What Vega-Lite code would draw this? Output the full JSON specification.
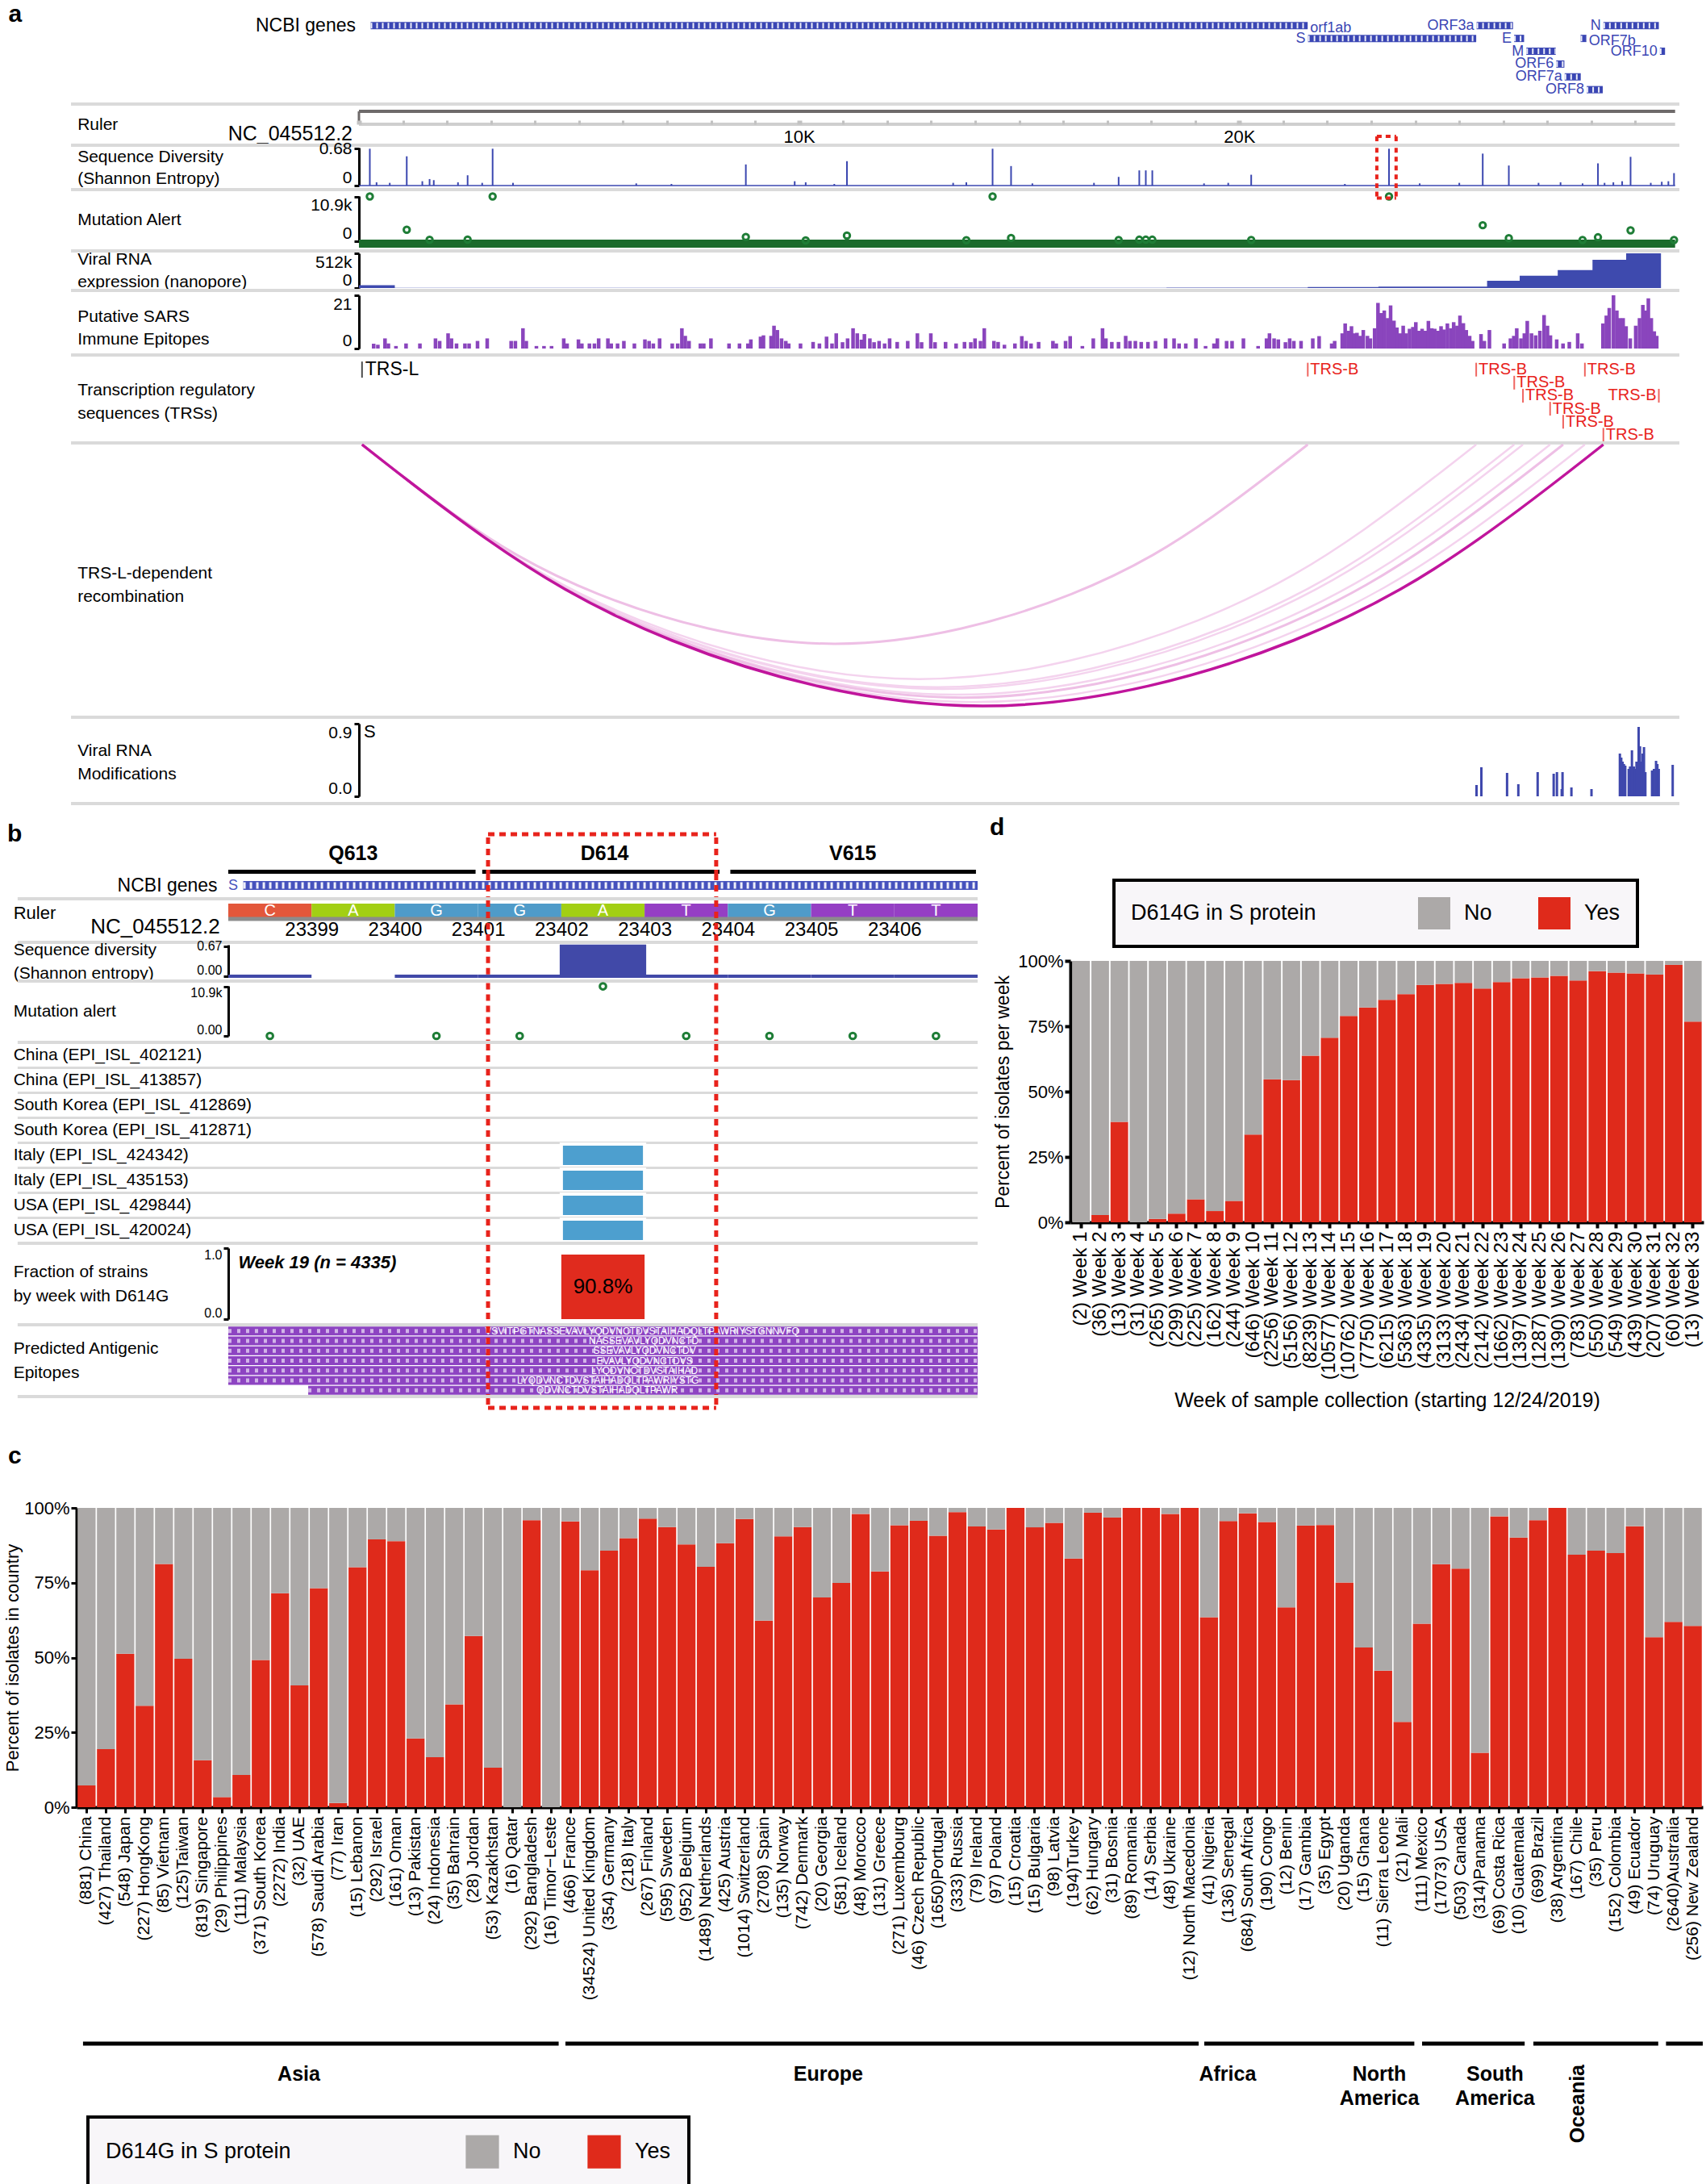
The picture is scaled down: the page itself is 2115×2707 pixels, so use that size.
{
"$schema":"https://vega.github.io/schema/vega-lite/v6.json",
"background":"white",
"padding":{"left":4,"top":0,"right":0,"bottom":0},
"spacing":0,
"resolve":{"scale":{"color":"independent"},"legend":{"color":"independent"}},
"config":{"font":"Liberation Sans","view":{"stroke":null},
 "axis":{"grid":false,"labelColor":"black","titleColor":"black","titleFontWeight":"normal","domainColor":"black","tickColor":"black","labelFont":"Liberation Sans","titleFont":"Liberation Sans"},
 "legend":{"strokeWidth":4,"labelColor":"black","titleColor":"black","labelFont":"Liberation Sans","titleFont":"Liberation Sans"},
 "text":{"color":"black","font":"Liberation Sans"},"title":{"color":"black","font":"Liberation Sans"}},
"datasets":{
 "genes":[{"gene":"orf1ab","start":266,"end":21555,"row":0},{"gene":"S","start":21563,"end":25384,"row":1},{"gene":"ORF3a","start":25393,"end":26220,"row":0},{"gene":"E","start":26245,"end":26472,"row":1},{"gene":"M","start":26523,"end":27191,"row":2},{"gene":"ORF6","start":27202,"end":27387,"row":3},{"gene":"ORF7a","start":27394,"end":27759,"row":4},{"gene":"ORF7b","start":27756,"end":27887,"row":1},{"gene":"ORF8","start":27894,"end":28259,"row":5},{"gene":"N","start":28274,"end":29533,"row":0},{"gene":"ORF10","start":29558,"end":29674,"row":2}],
 "redboxA":[{"x":23126},{"x":23564}],
 "redbox":[{"x":23401.12},{"x":23403.86}],
 "entropy":[{"p":247,"H":0.68},{"p":400,"H":0.06},{"p":700,"H":0.05},{"p":1086,"H":0.54},{"p":1440,"H":0.08},{"p":1605,"H":0.12},{"p":1700,"H":0.1},{"p":2250,"H":0.06},{"p":2469,"H":0.19},{"p":2800,"H":0.05},{"p":3037,"H":0.68},{"p":3500,"H":0.05},{"p":6300,"H":0.04},{"p":7100,"H":0.03},{"p":8790,"H":0.39},{"p":9900,"H":0.08},{"p":10150,"H":0.06},{"p":10800,"H":0.03},{"p":11087,"H":0.45},{"p":13500,"H":0.05},{"p":13800,"H":0.06},{"p":14396,"H":0.68},{"p":14816,"H":0.36},{"p":15300,"H":0.04},{"p":16700,"H":0.05},{"p":17260,"H":0.16},{"p":17729,"H":0.28},{"p":17877,"H":0.28},{"p":18025,"H":0.28},{"p":19200,"H":0.04},{"p":19750,"H":0.05},{"p":20272,"H":0.2},{"p":22400,"H":0.03},{"p":23403,"H":0.68},{"p":24100,"H":0.04},{"p":25000,"H":0.05},{"p":25532,"H":0.59},{"p":26125,"H":0.37},{"p":26800,"H":0.05},{"p":27300,"H":0.06},{"p":27800,"H":0.04},{"p":28150,"H":0.41},{"p":28300,"H":0.05},{"p":28500,"H":0.06},{"p":28700,"H":0.08},{"p":28891,"H":0.53},{"p":29350,"H":0.05},{"p":29600,"H":0.07},{"p":29750,"H":0.08},{"p":29878,"H":0.23}],
 "mutations":[{"p":247,"n":10900},{"p":3037,"n":10900},{"p":14396,"n":10900},{"p":23403,"n":10900},{"p":1086,"n":2800},{"p":8790,"n":1050},{"p":11087,"n":1370},{"p":14816,"n":800},{"p":25532,"n":3900},{"p":26125,"n":730},{"p":28150,"n":970},{"p":28891,"n":2660},{"p":1605,"n":350},{"p":2469,"n":400},{"p":17260,"n":300},{"p":17729,"n":380},{"p":17877,"n":380},{"p":18025,"n":380},{"p":20272,"n":300},{"p":29878,"n":300},{"p":13800,"n":250},{"p":27800,"n":300},{"p":10150,"n":200}],
 "rna":[{"p":0,"r":43000},{"p":815,"r":3000},{"p":18347,"r":6000},{"p":21557,"r":14000},{"p":23162,"r":22000},{"p":25631,"r":107000},{"p":26372,"r":183000},{"p":27236,"r":265000},{"p":28026,"r":416000},{"p":28791,"r":512000},{"p":29582,"r":0}],
 "epi":[{"p":334,"v":1.9},{"p":430,"v":1.5},{"p":592,"v":4},{"p":669,"v":2},{"p":841,"v":1},{"p":1070,"v":2},{"p":1385,"v":2},{"p":1739,"v":4},{"p":1834,"v":3},{"p":2025,"v":6},{"p":2102,"v":4},{"p":2217,"v":2},{"p":2408,"v":2},{"p":2503,"v":2},{"p":2694,"v":3},{"p":2914,"v":4},{"p":3458,"v":3},{"p":3554,"v":3},{"p":3726,"v":8},{"p":3802,"v":3},{"p":4032,"v":1},{"p":4204,"v":1},{"p":4376,"v":1},{"p":4653,"v":4},{"p":4729,"v":2},{"p":4987,"v":3.6},{"p":5064,"v":2},{"p":5236,"v":2},{"p":5350,"v":2},{"p":5446,"v":4},{"p":5656,"v":4},{"p":5732,"v":2},{"p":5876,"v":2},{"p":6019,"v":3},{"p":6258,"v":2},{"p":6497,"v":3.6},{"p":6592,"v":3},{"p":6688,"v":2},{"p":6831,"v":4},{"p":7118,"v":2},{"p":7242,"v":2},{"p":7337,"v":8},{"p":7414,"v":5},{"p":7500,"v":3},{"p":7758,"v":2},{"p":7834,"v":2},{"p":7997,"v":4},{"p":8408,"v":2},{"p":8646,"v":2},{"p":8837,"v":2},{"p":8904,"v":3.6},{"p":9124,"v":4.7},{"p":9191,"v":5.2},{"p":9363,"v":5},{"p":9430,"v":9},{"p":9506,"v":7.3},{"p":9602,"v":4},{"p":9698,"v":3},{"p":9764,"v":2},{"p":10032,"v":2},{"p":10318,"v":2.6},{"p":10462,"v":2},{"p":10624,"v":4.7},{"p":10748,"v":2},{"p":10844,"v":6},{"p":10987,"v":2.5},{"p":11102,"v":4},{"p":11226,"v":8},{"p":11322,"v":6},{"p":11417,"v":3.5},{"p":11484,"v":5.7},{"p":11608,"v":4},{"p":11704,"v":2.5},{"p":11818,"v":3},{"p":11943,"v":2},{"p":12057,"v":4},{"p":12229,"v":2.6},{"p":12468,"v":3},{"p":12688,"v":6},{"p":12783,"v":2.5},{"p":12993,"v":6},{"p":13089,"v":2.5},{"p":13328,"v":2.6},{"p":13567,"v":2},{"p":13758,"v":2.6},{"p":13901,"v":2.5},{"p":13997,"v":4},{"p":14121,"v":3},{"p":14207,"v":8},{"p":14427,"v":3},{"p":14522,"v":2.6},{"p":14665,"v":1.5},{"p":14904,"v":2},{"p":15060,"v":4.9},{"p":15156,"v":3},{"p":15270,"v":2},{"p":15442,"v":2.6},{"p":15767,"v":3},{"p":15843,"v":2},{"p":16054,"v":3},{"p":16159,"v":4.9},{"p":16436,"v":1},{"p":16684,"v":4},{"p":16894,"v":8},{"p":16971,"v":4},{"p":17105,"v":2.6},{"p":17257,"v":2.6},{"p":17420,"v":5},{"p":17515,"v":3},{"p":17640,"v":3},{"p":17773,"v":2.6},{"p":17926,"v":2.6},{"p":18098,"v":3},{"p":18327,"v":4},{"p":18519,"v":4},{"p":18633,"v":2},{"p":18786,"v":2},{"p":19015,"v":4},{"p":19235,"v":1},{"p":19426,"v":2},{"p":19503,"v":4},{"p":19713,"v":3},{"p":19837,"v":3},{"p":20095,"v":4},{"p":20429,"v":1},{"p":20620,"v":4},{"p":20687,"v":6},{"p":20792,"v":4},{"p":20888,"v":3.6},{"p":21050,"v":2.5},{"p":21146,"v":4},{"p":21241,"v":3},{"p":21404,"v":3},{"p":21671,"v":4},{"p":21815,"v":4.9},{"p":22101,"v":2},{"p":22168,"v":3},{"p":22340,"v":6},{"p":22407,"v":9.9},{"p":22483,"v":7},{"p":22550,"v":8.8},{"p":22612,"v":6},{"p":22675,"v":6.2},{"p":22745,"v":5},{"p":22818,"v":7.3},{"p":22913,"v":5},{"p":22980,"v":4},{"p":23076,"v":8},{"p":23152,"v":18},{"p":23219,"v":14},{"p":23295,"v":15},{"p":23372,"v":12},{"p":23439,"v":17},{"p":23515,"v":11},{"p":23582,"v":8.3},{"p":23659,"v":6},{"p":23725,"v":9},{"p":23792,"v":6},{"p":23869,"v":7.8},{"p":23945,"v":8.5},{"p":24012,"v":10.4},{"p":24079,"v":7},{"p":24155,"v":7.8},{"p":24232,"v":7},{"p":24298,"v":10.9},{"p":24375,"v":8},{"p":24442,"v":7.8},{"p":24519,"v":7},{"p":24585,"v":8.8},{"p":24652,"v":7.5},{"p":24729,"v":9.9},{"p":24805,"v":8},{"p":24872,"v":10.4},{"p":24948,"v":9},{"p":25015,"v":13},{"p":25092,"v":10},{"p":25158,"v":7.3},{"p":25235,"v":5},{"p":25302,"v":3},{"p":25493,"v":5.7},{"p":25569,"v":3},{"p":25684,"v":7.3},{"p":26018,"v":2},{"p":26162,"v":4},{"p":26238,"v":5},{"p":26305,"v":8},{"p":26401,"v":4},{"p":26478,"v":6},{"p":26544,"v":10.9},{"p":26640,"v":6},{"p":26735,"v":5.2},{"p":26831,"v":7},{"p":26926,"v":13.2},{"p":27003,"v":9},{"p":27070,"v":5.2},{"p":27213,"v":3.6},{"p":27356,"v":2},{"p":27499,"v":2.6},{"p":27690,"v":6},{"p":27786,"v":2},{"p":28264,"v":9.9},{"p":28340,"v":13},{"p":28407,"v":16},{"p":28503,"v":21},{"p":28579,"v":15},{"p":28646,"v":12},{"p":28722,"v":12},{"p":28789,"v":8.8},{"p":28884,"v":4},{"p":29008,"v":9},{"p":29094,"v":12},{"p":29170,"v":17.2},{"p":29237,"v":15},{"p":29295,"v":19.8},{"p":29362,"v":12},{"p":29429,"v":6.8},{"p":29486,"v":5}],
 "trs":[{"name":"TRS-L","p":70,"row":0},{"name":"TRS-B","p":21557,"row":0},{"name":"TRS-B","p":25384,"row":0},{"name":"TRS-B","p":26248,"row":1},{"name":"TRS-B","p":26446,"row":2},{"name":"TRS-B","p":27063,"row":3},{"name":"TRS-B","p":27360,"row":4},{"name":"TRS-B","p":27853,"row":0},{"name":"TRS-B","p":28273,"row":5},{"name":"TRS-B","p":29533,"row":2}],
 "arcs":[{"arc":"S","s":30,"p":70,"d":0},{"arc":"S","s":30,"p":2219,"d":0.274},{"arc":"S","s":30,"p":5442,"d":0.572},{"arc":"S","s":30,"p":10814,"d":0.762},{"arc":"S","s":30,"p":16185,"d":0.572},{"arc":"S","s":30,"p":19408,"d":0.274},{"arc":"S","s":30,"p":21557,"d":0},
  {"arc":"ORF3a","s":12,"p":70,"d":0},{"arc":"ORF3a","s":12,"p":2601,"d":0.323},{"arc":"ORF3a","s":12,"p":6399,"d":0.673},{"arc":"ORF3a","s":12,"p":12727,"d":0.897},{"arc":"ORF3a","s":12,"p":19056,"d":0.673},{"arc":"ORF3a","s":12,"p":22853,"d":0.323},{"arc":"ORF3a","s":12,"p":25384,"d":0},
  {"arc":"E","s":8,"p":70,"d":0},{"arc":"E","s":8,"p":2688,"d":0.334},{"arc":"E","s":8,"p":6615,"d":0.696},{"arc":"E","s":8,"p":13159,"d":0.928},{"arc":"E","s":8,"p":19704,"d":0.696},{"arc":"E","s":8,"p":23630,"d":0.334},{"arc":"E","s":8,"p":26248,"d":0},
  {"arc":"M","s":10,"p":70,"d":0},{"arc":"M","s":10,"p":2708,"d":0.337},{"arc":"M","s":10,"p":6664,"d":0.701},{"arc":"M","s":10,"p":13258,"d":0.935},{"arc":"M","s":10,"p":19852,"d":0.701},{"arc":"M","s":10,"p":23808,"d":0.337},{"arc":"M","s":10,"p":26446,"d":0},
  {"arc":"ORF6","s":8,"p":70,"d":0},{"arc":"ORF6","s":8,"p":2769,"d":0.345},{"arc":"ORF6","s":8,"p":6818,"d":0.718},{"arc":"ORF6","s":8,"p":13567,"d":0.957},{"arc":"ORF6","s":8,"p":20315,"d":0.718},{"arc":"ORF6","s":8,"p":24364,"d":0.345},{"arc":"ORF6","s":8,"p":27063,"d":0},
  {"arc":"ORF7a","s":16,"p":70,"d":0},{"arc":"ORF7a","s":16,"p":2799,"d":0.348},{"arc":"ORF7a","s":16,"p":6893,"d":0.726},{"arc":"ORF7a","s":16,"p":13715,"d":0.968},{"arc":"ORF7a","s":16,"p":20538,"d":0.726},{"arc":"ORF7a","s":16,"p":24631,"d":0.348},{"arc":"ORF7a","s":16,"p":27360,"d":0},
  {"arc":"ORF8","s":10,"p":70,"d":0},{"arc":"ORF8","s":10,"p":2848,"d":0.355},{"arc":"ORF8","s":10,"p":7016,"d":0.739},{"arc":"ORF8","s":10,"p":13962,"d":0.985},{"arc":"ORF8","s":10,"p":20907,"d":0.739},{"arc":"ORF8","s":10,"p":25075,"d":0.355},{"arc":"ORF8","s":10,"p":27853,"d":0},
  {"arc":"N","s":100,"p":70,"d":0},{"arc":"N","s":100,"p":2890,"d":0.36},{"arc":"N","s":100,"p":7121,"d":0.75},{"arc":"N","s":100,"p":14172,"d":1},{"arc":"N","s":100,"p":21222,"d":0.75},{"arc":"N","s":100,"p":25453,"d":0.36},{"arc":"N","s":100,"p":28273,"d":0}],
 "mods":[{"p":25391,"v":0.14},{"p":25501,"v":0.36},{"p":26085,"v":0.29},{"p":26341,"v":0.15},{"p":26780,"v":0.3},{"p":27144,"v":0.28},{"p":27218,"v":0.3},{"p":27327,"v":0.09},{"p":27345,"v":0.3},{"p":27547,"v":0.11},{"p":28003,"v":0.09},{"p":28648,"v":0.53},{"p":28679,"v":0.48},{"p":28710,"v":0.43},{"p":28740,"v":0.4},{"p":28770,"v":0.38},{"p":28849,"v":0.34},{"p":28880,"v":0.37},{"p":28922,"v":0.57},{"p":28965,"v":0.37},{"p":28995,"v":0.34},{"p":29026,"v":0.43},{"p":29074,"v":0.86},{"p":29105,"v":0.62},{"p":29135,"v":0.43},{"p":29166,"v":0.53},{"p":29196,"v":0.61},{"p":29227,"v":0.3},{"p":29379,"v":0.32},{"p":29422,"v":0.34},{"p":29470,"v":0.44},{"p":29500,"v":0.4},{"p":29531,"v":0.34},{"p":29848,"v":0.39}],
 "codons":[{"codon":"Q613","start":23398,"end":23400.97,"mid":23399.5},{"codon":"D614","start":23401.05,"end":23403.9,"mid":23402.52},{"codon":"V615","start":23404.03,"end":23406.98,"mid":23405.5}],
 "bbases":[{"base":"C","start":23398,"end":23399,"mid":23398.5,"H":0,"n":0},{"base":"A","start":23399,"end":23400,"mid":23399.5},{"base":"G","start":23400,"end":23401,"mid":23400.5,"H":0,"n":0},{"base":"G","start":23401,"end":23402,"mid":23401.5,"H":0,"n":0},{"base":"A","start":23402,"end":23403,"mid":23402.5,"H":0.67,"n":10900},{"base":"T","start":23403,"end":23404,"mid":23403.5,"H":0,"n":0},{"base":"G","start":23404,"end":23405,"mid":23404.5,"H":0,"n":0},{"base":"T","start":23405,"end":23406,"mid":23405.5,"H":0,"n":0},{"base":"T","start":23406,"end":23407,"mid":23406.5,"H":0,"n":0}],
 "strains":[{"id":1,"strain":"China (EPI_ISL_402121)"},{"id":2,"strain":"China (EPI_ISL_413857)"},{"id":3,"strain":"South Korea (EPI_ISL_412869)"},{"id":4,"strain":"South Korea (EPI_ISL_412871)"},{"id":5,"strain":"Italy (EPI_ISL_424342)","alt":"G","start":23402,"end":23403},{"id":6,"strain":"Italy (EPI_ISL_435153)","alt":"G","start":23402,"end":23403},{"id":7,"strain":"USA (EPI_ISL_429844)","alt":"G","start":23402,"end":23403},{"id":8,"strain":"USA (EPI_ISL_420024)","alt":"G","start":23402,"end":23403}],
 "frac":[{"start":23402,"end":23403,"mid":23402.5,"f":0.908,"label":"90.8%"}],
 "bepi":[{"row":0,"start":23398,"end":23407,"c":23402.97,"seq":"VSVITPGTNASSEVAVLYQDVNCTDVSTAIHADQLTPAWRIYSTGNNVFQ"},{"row":1,"start":23398,"end":23407,"c":23402.99,"seq":"NASSEVAVLYQDVNCTD"},{"row":2,"start":23398,"end":23407,"c":23403.0,"seq":"SSEVAVLYQDVNCTDV"},{"row":3,"start":23398,"end":23407,"c":23403.0,"seq":"EVAVLYQDVNCTDVS"},{"row":4,"start":23398,"end":23407,"c":23403.0,"seq":"LYQDVNCTDVSTAIHAD"},{"row":5,"start":23398,"end":23407,"c":23402.56,"seq":"LYQDVNCTDVSTAIHADQLTPAWRIYSTG"},{"row":6,"start":23398.96,"end":23407,"c":23402.55,"seq":"QDVNCTDVSTAIHADQLTPAWR"}],
 "weeks":[{"w":"(2) Week 1","Yes":0,"No":1},{"w":"(36) Week 2","Yes":0.028,"No":0.972},{"w":"(13) Week 3","Yes":0.384,"No":0.616},{"w":"(31) Week 4","Yes":0,"No":1},{"w":"(265) Week 5","Yes":0.013,"No":0.987},{"w":"(299) Week 6","Yes":0.033,"No":0.967},{"w":"(225) Week 7","Yes":0.088,"No":0.912},{"w":"(162) Week 8","Yes":0.043,"No":0.957},{"w":"(244) Week 9","Yes":0.082,"No":0.918},{"w":"(646) Week 10","Yes":0.336,"No":0.664},{"w":"(2256) Week 11","Yes":0.547,"No":0.453},{"w":"(5156) Week 12","Yes":0.544,"No":0.456},{"w":"(8239) Week 13","Yes":0.637,"No":0.363},{"w":"(10577) Week 14","Yes":0.706,"No":0.294},{"w":"(10762) Week 15","Yes":0.789,"No":0.211},{"w":"(7750) Week 16","Yes":0.822,"No":0.178},{"w":"(6215) Week 17","Yes":0.851,"No":0.149},{"w":"(5363) Week 18","Yes":0.873,"No":0.127},{"w":"(4335) Week 19","Yes":0.908,"No":0.092},{"w":"(3133) Week 20","Yes":0.912,"No":0.088},{"w":"(2434) Week 21","Yes":0.916,"No":0.084},{"w":"(2142) Week 22","Yes":0.894,"No":0.106},{"w":"(1662) Week 23","Yes":0.919,"No":0.081},{"w":"(1397) Week 24","Yes":0.934,"No":0.066},{"w":"(1287) Week 25","Yes":0.937,"No":0.063},{"w":"(1390) Week 26","Yes":0.943,"No":0.057},{"w":"(783) Week 27","Yes":0.925,"No":0.075},{"w":"(550) Week 28","Yes":0.961,"No":0.039},{"w":"(549) Week 29","Yes":0.955,"No":0.045},{"w":"(439) Week 30","Yes":0.952,"No":0.048},{"w":"(207) Week 31","Yes":0.948,"No":0.052},{"w":"(60) Week 32","Yes":0.985,"No":0.015},{"w":"(13) Week 33","Yes":0.768,"No":0.232}],
 "countries":[{"c":"(881) China","Yes":0.073,"No":0.927},{"c":"(427) Thailand","Yes":0.194,"No":0.806},{"c":"(548) Japan","Yes":0.513,"No":0.487},{"c":"(227) HongKong","Yes":0.339,"No":0.661},{"c":"(85) Vietnam","Yes":0.813,"No":0.187},{"c":"(125)Taiwan","Yes":0.496,"No":0.504},{"c":"(819) Singapore","Yes":0.157,"No":0.843},{"c":"(29) Philippines","Yes":0.034,"No":0.966},{"c":"(111) Malaysia","Yes":0.108,"No":0.892},{"c":"(371) South Korea","Yes":0.492,"No":0.508},{"c":"(2272) India","Yes":0.715,"No":0.285},{"c":"(32) UAE","Yes":0.407,"No":0.593},{"c":"(578) Saudi Arabia","Yes":0.732,"No":0.268},{"c":"(77) Iran","Yes":0.014,"No":0.986},{"c":"(15) Lebanon","Yes":0.802,"No":0.198},{"c":"(292) Israel","Yes":0.895,"No":0.105},{"c":"(161) Oman","Yes":0.889,"No":0.111},{"c":"(13) Pakistan","Yes":0.23,"No":0.77},{"c":"(24) Indonesia","Yes":0.167,"No":0.833},{"c":"(35) Bahrain","Yes":0.344,"No":0.656},{"c":"(28) Jordan","Yes":0.572,"No":0.428},{"c":"(53) Kazakhstan","Yes":0.132,"No":0.868},{"c":"(16) Qatar","Yes":0,"No":1},{"c":"(292) Bangladesh","Yes":0.959,"No":0.041},{"c":"(16) Timor−Leste","Yes":0,"No":1},
  {"c":"(466) France","Yes":0.955,"No":0.045},{"c":"(34524) United Kingdom","Yes":0.792,"No":0.208},{"c":"(354) Germany","Yes":0.857,"No":0.143},{"c":"(218) Italy","Yes":0.899,"No":0.101},{"c":"(267) Finland","Yes":0.964,"No":0.036},{"c":"(595) Sweden","Yes":0.936,"No":0.064},{"c":"(952) Belgium","Yes":0.878,"No":0.122},{"c":"(1489) Netherlands","Yes":0.803,"No":0.197},{"c":"(425) Austria","Yes":0.882,"No":0.118},{"c":"(1014) Switzerland","Yes":0.963,"No":0.037},{"c":"(2708) Spain","Yes":0.623,"No":0.377},{"c":"(135) Norway","Yes":0.905,"No":0.095},{"c":"(742) Denmark","Yes":0.936,"No":0.064},{"c":"(20) Georgia","Yes":0.701,"No":0.299},{"c":"(581) Iceland","Yes":0.749,"No":0.251},{"c":"(48) Morocco","Yes":0.98,"No":0.02},{"c":"(131) Greece","Yes":0.788,"No":0.212},{"c":"(271) Luxembourg","Yes":0.942,"No":0.058},{"c":"(46) Czech Republic","Yes":0.957,"No":0.043},{"c":"(1650)Portugal","Yes":0.907,"No":0.093},{"c":"(333) Russia","Yes":0.986,"No":0.014},{"c":"(79) Ireland","Yes":0.938,"No":0.062},{"c":"(97) Poland","Yes":0.928,"No":0.072},{"c":"(15) Croatia","Yes":1,"No":0},{"c":"(15) Bulgaria","Yes":0.935,"No":0.065},{"c":"(98) Latvia","Yes":0.95,"No":0.05},{"c":"(194)Turkey","Yes":0.831,"No":0.169},{"c":"(62) Hungary","Yes":0.984,"No":0.016},{"c":"(31) Bosnia","Yes":0.968,"No":0.032},{"c":"(89) Romania","Yes":1,"No":0},{"c":"(14) Serbia","Yes":1,"No":0},{"c":"(48) Ukraine","Yes":0.98,"No":0.02},{"c":"(12) North Macedonia","Yes":1,"No":0},
  {"c":"(41) Nigeria","Yes":0.635,"No":0.365},{"c":"(136) Senegal","Yes":0.956,"No":0.044},{"c":"(684) South Africa","Yes":0.982,"No":0.018},{"c":"(190) Congo","Yes":0.953,"No":0.047},{"c":"(12) Benin","Yes":0.668,"No":0.332},{"c":"(17) Gambia","Yes":0.941,"No":0.059},{"c":"(35) Egypt","Yes":0.943,"No":0.057},{"c":"(20) Uganda","Yes":0.751,"No":0.249},{"c":"(15) Ghana","Yes":0.534,"No":0.466},{"c":"(11) Sierra Leone","Yes":0.456,"No":0.544},{"c":"(21) Mali","Yes":0.285,"No":0.715},
  {"c":"(111) Mexico","Yes":0.613,"No":0.387},{"c":"(17073) USA","Yes":0.812,"No":0.188},{"c":"(503) Canada","Yes":0.797,"No":0.203},{"c":"(314)Panama","Yes":0.182,"No":0.818},{"c":"(69) Costa Rica","Yes":0.972,"No":0.028},{"c":"(10) Guatemala","Yes":0.901,"No":0.099},
  {"c":"(699) Brazil","Yes":0.959,"No":0.041},{"c":"(38) Argentina","Yes":1,"No":0},{"c":"(167) Chile","Yes":0.844,"No":0.156},{"c":"(35) Peru","Yes":0.857,"No":0.143},{"c":"(152) Colombia","Yes":0.849,"No":0.151},{"c":"(49) Ecuador","Yes":0.939,"No":0.061},{"c":"(74) Uruguay","Yes":0.568,"No":0.432},
  {"c":"(2640)Australia","Yes":0.619,"No":0.381},{"c":"(256) New Zealand","Yes":0.606,"No":0.394}],
 "continents":[{"cont":"Asia","s":0.33,"e":24.9,"m":12.3},{"cont":"Europe","s":25.25,"e":57.96,"m":41.6},{"cont":"Africa","s":58.25,"e":69.1,"m":63.7},{"cont":"North America","s":69.5,"e":74.8,"m":72.1},{"cont":"South America","s":75.25,"e":81.7,"m":78.5},{"cont":"Oceania","s":82.1,"e":84,"m":83.1}]
},
"vconcat":[
 {"bounds":"flush","spacing":0,"hconcat":[
 {"width":350,"height":1,"data":{"values":[{}]},"mark":{"type":"rect","color":"white","opacity":0},"encoding":{}},
 {"bounds":"flush","spacing":0,"vconcat":[
  {"width":1637,"height":127,"layer":[
   {"data":{"name":"genes"},"mark":{"type":"rule","strokeWidth":9,"color":"#3a46b4"},"encoding":{"x":{"field":"start","type":"quantitative","scale":{"domain":[0,29903]},"axis":null},"x2":{"field":"end"},"y":{"field":"row","type":"quantitative","scale":{"domain":[-1.954,5.345],"reverse":true},"axis":null}}},
   {"data":{"name":"genes"},"mark":{"type":"rule","strokeWidth":7,"color":"white","strokeDash":[2,5],"opacity":0.9},"encoding":{"x":{"field":"start","type":"quantitative","axis":null},"x2":{"field":"end"},"y":{"field":"row","type":"quantitative","axis":null}}},
   {"data":{"name":"genes"},"transform":[{"filter":"datum.gene != 'orf1ab' && datum.gene != 'ORF7b'"}],"mark":{"type":"text","align":"right","dx":-3,"fontSize":18,"color":"#3a46b4"},"encoding":{"x":{"field":"start","type":"quantitative","axis":null},"y":{"field":"row","type":"quantitative","axis":null},"text":{"field":"gene"}}},
   {"data":{"name":"genes"},"transform":[{"filter":"datum.gene == 'orf1ab' || datum.gene == 'ORF7b'"}],"mark":{"type":"text","align":"left","dx":3,"dy":3,"fontSize":18,"color":"#3a46b4"},"encoding":{"x":{"field":"end","type":"quantitative","axis":null},"y":{"field":"row","type":"quantitative","axis":null},"text":{"field":"gene"}}},
   {"data":{"values":[{}]},"mark":{"type":"text","text":"NCBI genes","align":"right","dx":-4,"fontSize":23},"encoding":{"x":{"datum":0,"type":"quantitative","axis":null},"y":{"datum":0,"type":"quantitative","axis":null}}},
   {"data":{"values":[{}]},"mark":{"type":"text","text":"a","align":"left","fontSize":30,"fontWeight":"bold"},"encoding":{"x":{"datum":-7964,"type":"quantitative","axis":null},"y":{"datum":-0.85,"type":"quantitative","axis":null}}}
  ]},
  {"width":1637,"height":4,"data":{"values":[{}]},"mark":{"type":"rect","color":"#dadada"},"encoding":{"x":{"datum":-6520,"type":"quantitative","scale":{"domain":[0,29903]},"axis":null},"x2":{"datum":29903}}},
  {"width":1637,"height":47,"layer":[
   {"data":{"values":[{}]},"mark":{"type":"rule","color":"#cfcfcf","strokeWidth":4},"encoding":{"x":{"datum":0,"type":"quantitative","scale":{"domain":[0,29903]},"axis":{"orient":"bottom","offset":-24,"zindex":2,"values":[0,1000,2000,3000,4000,5000,6000,7000,8000,9000,10000,11000,12000,13000,14000,15000,16000,17000,18000,19000,20000,21000,22000,23000,24000,25000,26000,27000,28000,29000],"labelExpr":"datum.value == 10000 ? '10K' : (datum.value == 20000 ? '20K' : '')","tickSize":-5,"tickWidth":{"condition":{"test":"datum.value == 10000 || datum.value == 20000 || datum.value == 0","value":6},"value":3},"tickColor":"#c2c2c2","domain":false,"labelFontSize":22,"labelPadding":10,"labelFlush":false,"title":null,"grid":false}},"x2":{"datum":29903},"y":{"datum":0.511,"type":"quantitative","scale":{"domain":[0,1]},"axis":null}}},
   {"data":{"values":[{}]},"mark":{"type":"rule","color":"#6e6a6a","strokeWidth":4},"encoding":{"x":{"datum":0,"type":"quantitative"},"x2":{"datum":29903},"y":{"datum":0.851,"type":"quantitative","axis":null}}},
   {"data":{"values":[{}]},"mark":{"type":"rule","color":"#6e6a6a","strokeWidth":3},"encoding":{"x":{"datum":0,"type":"quantitative"},"y":{"datum":0.851,"type":"quantitative","axis":null},"y2":{"datum":0.511}}},
   {"data":{"values":[{}]},"mark":{"type":"text","text":"Ruler","align":"left","fontSize":21},"encoding":{"x":{"datum":-6393,"type":"quantitative"},"y":{"datum":0.49,"type":"quantitative","axis":null}}},
   {"data":{"values":[{}]},"mark":{"type":"text","text":"NC_045512.2","align":"right","dx":-8,"fontSize":25},"encoding":{"x":{"datum":0,"type":"quantitative"},"y":{"datum":0.255,"type":"quantitative","axis":null}}},
   {"data":{"values":[{}]},"mark":{"type":"rule","color":"#e8231c","strokeWidth":4,"strokeDash":[6,5]},"encoding":{"x":{"datum":23126,"type":"quantitative"},"x2":{"datum":23564},"y":{"datum":0.19,"type":"quantitative","axis":null}}},
   {"data":{"name":"redboxA"},"mark":{"type":"rule","color":"#e8231c","strokeWidth":4,"strokeDash":[6,5]},"encoding":{"x":{"field":"x","type":"quantitative","title":null},"y":{"datum":0.19,"type":"quantitative","axis":null},"y2":{"datum":0}}}
  ]},
  {"width":1637,"height":4,"data":{"values":[{}]},"mark":{"type":"rect","color":"#dadada"},"encoding":{"x":{"datum":-6520,"type":"quantitative","scale":{"domain":[0,29903]},"axis":null},"x2":{"datum":29903}}},
  {"width":1637,"height":51,"layer":[
   {"data":{"name":"entropy"},"mark":{"type":"rule","color":"#3b47b0","strokeWidth":2},"encoding":{"x":{"field":"p","type":"quantitative","scale":{"domain":[0,29903]},"axis":null},"y":{"field":"H","type":"quantitative","scale":{"domain":[0,0.68],"range":[48,1]},"axis":{"values":[0,0.68],"labelExpr":"datum.value == 0 ? '0' : '0.68'","labelFontSize":21,"labelFlush":true,"labelPadding":3,"domainWidth":3,"tickWidth":3,"tickSize":6,"title":null,"grid":false}},"y2":{"datum":0}}},
   {"data":{"values":[{}]},"mark":{"type":"rule","color":"#3b47b0","strokeWidth":1.5},"encoding":{"x":{"datum":0,"type":"quantitative","axis":null},"x2":{"datum":29903},"y":{"datum":0,"type":"quantitative"}}},
   {"data":{"values":[{}]},"mark":{"type":"text","text":["Sequence Diversity","(Shannon Entropy)"],"align":"left","baseline":"middle","fontSize":21,"lineHeight":27,"dy":-13},"encoding":{"x":{"datum":-6393,"type":"quantitative","axis":null}}},
   {"data":{"name":"redboxA"},"mark":{"type":"rule","color":"#e8231c","strokeWidth":4,"strokeDash":[6,5]},"encoding":{"x":{"field":"x","type":"quantitative","axis":null},"y":{"datum":0.6945,"type":"quantitative"},"y2":{"datum":-0.0434}}}
  ]},
  {"width":1637,"height":4,"data":{"values":[{}]},"mark":{"type":"rect","color":"#dadada"},"encoding":{"x":{"datum":-6520,"type":"quantitative","scale":{"domain":[0,29903]},"axis":null},"x2":{"datum":29903}}},
  {"width":1637,"height":72,"layer":[
   {"data":{"values":[{}]},"mark":{"type":"rect","color":"#1b6b2c"},"encoding":{"x":{"datum":0,"type":"quantitative","scale":{"domain":[0,29903]},"axis":null},"x2":{"datum":29903},"y":{"datum":390,"type":"quantitative","scale":{"domain":[0,10900],"range":[62,6]},"axis":{"values":[0,10900],"labelExpr":"datum.value == 0 ? '0' : '10.9k'","labelFontSize":21,"labelFlush":true,"labelPadding":3,"domainWidth":3,"tickWidth":3,"tickSize":6,"title":null,"grid":false}},"y2":{"datum":-1557}}},
   {"data":{"name":"mutations"},"mark":{"type":"point","filled":false,"stroke":"#1e7d36","strokeWidth":3,"size":55,"opacity":1},"encoding":{"x":{"field":"p","type":"quantitative","axis":null},"y":{"field":"n","type":"quantitative","title":null}}},
   {"data":{"values":[{}]},"mark":{"type":"text","text":"Mutation Alert","align":"left","baseline":"middle","fontSize":21},"encoding":{"x":{"datum":-6393,"type":"quantitative","axis":null}}},
   {"data":{"name":"redboxA"},"mark":{"type":"rule","color":"#e8231c","strokeWidth":4,"strokeDash":[6,5]},"encoding":{"x":{"field":"x","type":"quantitative","axis":null},"y":{"datum":12068,"type":"quantitative"},"y2":{"datum":10511}}},
   {"data":{"values":[{}]},"mark":{"type":"rule","color":"#e8231c","strokeWidth":4,"strokeDash":[6,5]},"encoding":{"x":{"datum":23126,"type":"quantitative","axis":null},"x2":{"datum":23564},"y":{"datum":10511,"type":"quantitative"}}}
  ]},
  {"width":1637,"height":4,"data":{"values":[{}]},"mark":{"type":"rect","color":"#dadada"},"encoding":{"x":{"datum":-6520,"type":"quantitative","scale":{"domain":[0,29903]},"axis":null},"x2":{"datum":29903}}},
  {"width":1637,"height":45,"layer":[
   {"data":{"name":"rna"},"mark":{"type":"area","interpolate":"step-after","color":"#3e4aae"},"encoding":{"x":{"field":"p","type":"quantitative","scale":{"domain":[0,29903]},"axis":null},"y":{"field":"r","type":"quantitative","scale":{"domain":[0,512000],"range":[44,1]},"axis":{"values":[0,512000],"labelExpr":"datum.value == 0 ? '0' : '512k'","labelFontSize":21,"labelFlush":true,"labelPadding":3,"domainWidth":3,"tickWidth":3,"tickSize":6,"title":null,"grid":false}}}},
   {"data":{"values":[{}]},"mark":{"type":"text","text":["Viral RNA","expression (nanopore)"],"align":"left","baseline":"middle","fontSize":21,"lineHeight":28,"dy":-14},"encoding":{"x":{"datum":-6393,"type":"quantitative","axis":null}}}
  ]},
  {"width":1637,"height":4,"data":{"values":[{}]},"mark":{"type":"rect","color":"#dadada"},"encoding":{"x":{"datum":-6520,"type":"quantitative","scale":{"domain":[0,29903]},"axis":null},"x2":{"datum":29903}}},
  {"width":1637,"height":76,"layer":[
   {"data":{"name":"epi"},"mark":{"type":"rule","strokeWidth":4.5,"color":"#8a45bd"},"encoding":{"x":{"field":"p","type":"quantitative","scale":{"domain":[0,29903]},"axis":null},"y":{"field":"v","type":"quantitative","scale":{"domain":[0,21],"range":[70,4]},"axis":{"values":[0,21],"labelExpr":"datum.value == 0 ? '0' : '21'","labelFontSize":21,"labelFlush":true,"labelPadding":3,"domainWidth":3,"tickWidth":3,"tickSize":6,"title":null,"grid":false}},"y2":{"datum":0}}},
   {"data":{"values":[{}]},"mark":{"type":"text","text":["Putative SARS","Immune Epitopes"],"align":"left","baseline":"middle","fontSize":21,"lineHeight":28,"dy":-7},"encoding":{"x":{"datum":-6393,"type":"quantitative","axis":null}}}
  ]},
  {"width":1637,"height":4,"data":{"values":[{}]},"mark":{"type":"rect","color":"#dadada"},"encoding":{"x":{"datum":-6520,"type":"quantitative","scale":{"domain":[0,29903]},"axis":null},"x2":{"datum":29903}}},
  {"width":1637,"height":105,"layer":[
   {"data":{"name":"trs"},"transform":[{"filter":"datum.name == 'TRS-B'"}],"mark":{"type":"tick","orient":"vertical","size":17,"thickness":2,"color":"#e8231c"},"encoding":{"x":{"field":"p","type":"quantitative","scale":{"domain":[0,29903]},"axis":null},"y":{"field":"row","type":"quantitative","scale":{"domain":[-0.506,5.39],"reverse":true},"axis":null}}},
   {"data":{"name":"trs"},"transform":[{"filter":"datum.name == 'TRS-L'"}],"mark":{"type":"tick","orient":"vertical","size":20,"thickness":2,"color":"black"},"encoding":{"x":{"field":"p","type":"quantitative","axis":null},"y":{"field":"row","type":"quantitative","axis":null}}},
   {"data":{"name":"trs"},"transform":[{"filter":"datum.name == 'TRS-L'"}],"mark":{"type":"text","align":"left","dx":4,"fontSize":23},"encoding":{"x":{"field":"p","type":"quantitative","axis":null},"y":{"field":"row","type":"quantitative","axis":null},"text":{"field":"name"}}},
   {"data":{"name":"trs"},"transform":[{"filter":"datum.name == 'TRS-B' && datum.p < 29000"}],"mark":{"type":"text","align":"left","dx":3,"fontSize":20,"color":"#e8231c"},"encoding":{"x":{"field":"p","type":"quantitative","axis":null},"y":{"field":"row","type":"quantitative","axis":null},"text":{"field":"name"}}},
   {"data":{"name":"trs"},"transform":[{"filter":"datum.name == 'TRS-B' && datum.p > 29000"}],"mark":{"type":"text","align":"right","dx":-3,"fontSize":20,"color":"#e8231c"},"encoding":{"x":{"field":"p","type":"quantitative","axis":null},"y":{"field":"row","type":"quantitative","axis":null},"text":{"field":"name"}}},
   {"data":{"values":[{}]},"mark":{"type":"text","text":["Transcription regulatory","sequences (TRSs)"],"align":"left","baseline":"middle","fontSize":21,"lineHeight":29,"dy":-11},"encoding":{"x":{"datum":-6393,"type":"quantitative","axis":null}}}
  ]},
  {"width":1637,"height":4,"data":{"values":[{}]},"mark":{"type":"rect","color":"#dadada"},"encoding":{"x":{"datum":-6520,"type":"quantitative","scale":{"domain":[0,29903]},"axis":null},"x2":{"datum":29903}}},
  {"width":1637,"height":336,"layer":[
   {"data":{"name":"arcs"},"transform":[{"filter":"datum.s < 14"}],"mark":{"type":"line","interpolate":"natural","color":"#f4d3ee","strokeWidth":2.5},"encoding":{"x":{"field":"p","type":"quantitative","scale":{"domain":[0,29903]},"axis":null},"y":{"field":"d","type":"quantitative","scale":{"domain":[0,1],"range":[0,324]},"axis":null},"detail":{"field":"arc"}}},
   {"data":{"name":"arcs"},"transform":[{"filter":"datum.s >= 14 && datum.s < 50"}],"mark":{"type":"line","interpolate":"natural","color":"#eebfe5","strokeWidth":3},"encoding":{"x":{"field":"p","type":"quantitative","axis":null},"y":{"field":"d","type":"quantitative","axis":null},"detail":{"field":"arc"}}},
   {"data":{"name":"arcs"},"transform":[{"filter":"datum.s >= 50"}],"mark":{"type":"line","interpolate":"natural","color":"#c0159c","strokeWidth":3.5},"encoding":{"x":{"field":"p","type":"quantitative","axis":null},"y":{"field":"d","type":"quantitative","axis":null},"detail":{"field":"arc"}}},
   {"data":{"values":[{}]},"mark":{"type":"text","text":["TRS-L-dependent","recombination"],"align":"left","baseline":"middle","fontSize":21,"lineHeight":29,"dy":-8},"encoding":{"x":{"datum":-6393,"type":"quantitative","axis":null}}}
  ]},
  {"width":1637,"height":4,"data":{"values":[{}]},"mark":{"type":"rect","color":"#dadada"},"encoding":{"x":{"datum":-6520,"type":"quantitative","scale":{"domain":[0,29903]},"axis":null},"x2":{"datum":29903}}},
  {"width":1637,"height":103,"layer":[
   {"data":{"name":"mods"},"mark":{"type":"rule","color":"#3f48ad","strokeWidth":3},"encoding":{"x":{"field":"p","type":"quantitative","scale":{"domain":[0,29903]},"axis":null},"y":{"field":"v","type":"quantitative","scale":{"domain":[0,0.9],"range":[96,6]},"axis":{"values":[0,0.9],"labelExpr":"datum.value == 0 ? '0.0' : '0.9'","labelFontSize":21,"labelFlush":true,"labelPadding":3,"domainWidth":3,"tickWidth":3,"tickSize":6,"title":null,"grid":false}},"y2":{"datum":0}}},
   {"data":{"values":[{}]},"mark":{"type":"text","text":"S","align":"left","baseline":"top","fontSize":22,"dx":6},"encoding":{"x":{"datum":0,"type":"quantitative","axis":null},"y":{"datum":0.9,"type":"quantitative"}}},
   {"data":{"values":[{}]},"mark":{"type":"text","text":["Viral RNA","Modifications"],"align":"left","baseline":"middle","fontSize":21,"lineHeight":29,"dy":-12},"encoding":{"x":{"datum":-6393,"type":"quantitative","axis":null}}}
  ]},
  {"width":1637,"height":4,"data":{"values":[{}]},"mark":{"type":"rect","color":"#dadada"},"encoding":{"x":{"datum":-6520,"type":"quantitative","scale":{"domain":[0,29903]},"axis":null},"x2":{"datum":29903}}}
 ]}]},
 {"bounds":"flush","spacing":0,"resolve":{"scale":{"color":"independent"},"legend":{"color":"independent"}},"hconcat":[
  {"width":188,"height":1,"data":{"values":[{}]},"mark":{"type":"rect","color":"white","opacity":0},"encoding":{}},
  {"bounds":"flush","spacing":0,"vconcat":[
   {"width":929,"height":32,"data":{"values":[{}]},"mark":{"type":"rect","color":"white","opacity":0},"encoding":{}},
   {"width":929,"height":8,"layer":[
     {"data":{"values":[{}]},"mark":{"type":"rule","color":"#e8231c","strokeWidth":5,"strokeDash":[8,6]},"encoding":{"x":{"datum":23401.12,"type":"quantitative","scale":{"domain":[23398,23407]},"axis":null},"x2":{"datum":23403.86}}},
     {"data":{"values":[{}]},"mark":{"type":"text","text":"b","align":"left","fontSize":30,"fontWeight":"bold"},"encoding":{"x":{"datum":23395.345,"type":"quantitative","axis":null}}}
   ]},
   {"width":929,"height":40,"layer":[
     {"data":{"name":"codons"},"mark":{"type":"text","fontSize":25,"fontWeight":"bold"},"encoding":{"x":{"field":"mid","type":"quantitative","scale":{"domain":[23398,23407]},"axis":null},"text":{"field":"codon"}}},
     {"data":{"name":"redbox"},"mark":{"type":"rule","color":"#e8231c","strokeWidth":5,"strokeDash":[8,6]},"encoding":{"x":{"field":"x","type":"quantitative","axis":null}}}
   ]},
   {"width":929,"height":5,"layer":[
     {"data":{"name":"codons"},"mark":{"type":"rect","color":"black"},"encoding":{"x":{"field":"start","type":"quantitative","scale":{"domain":[23398,23407]},"axis":null},"x2":{"field":"end"}}},
     {"data":{"name":"redbox"},"mark":{"type":"rule","color":"#e8231c","strokeWidth":5,"strokeDash":[8,6]},"encoding":{"x":{"field":"x","type":"quantitative","axis":null}}}
   ]},
   {"width":929,"height":29,"layer":[
     {"data":{"values":[{}]},"mark":{"type":"rule","strokeWidth":11,"color":"#4652bd"},"encoding":{"x":{"datum":23398.18,"type":"quantitative","scale":{"domain":[23398,23407]},"axis":null},"x2":{"datum":23407}}},
     {"data":{"values":[{}]},"mark":{"type":"rule","strokeWidth":8,"color":"white","strokeDash":[3,5],"opacity":0.9},"encoding":{"x":{"datum":23398.18,"type":"quantitative","axis":null},"x2":{"datum":23407}}},
     {"data":{"values":[{}]},"mark":{"type":"text","text":"S","align":"left","fontSize":18,"color":"#4652bd"},"encoding":{"x":{"datum":23398,"type":"quantitative","axis":null}}},
     {"data":{"values":[{}]},"mark":{"type":"text","text":"NCBI genes","align":"right","fontSize":23},"encoding":{"x":{"datum":23397.87,"type":"quantitative","axis":null}}},
     {"data":{"name":"redbox"},"mark":{"type":"rule","color":"#e8231c","strokeWidth":5,"strokeDash":[8,6]},"encoding":{"x":{"field":"x","type":"quantitative","axis":null}}}
   ]},
   {"width":929,"height":4,"data":{"values":[{}]},"mark":{"type":"rect","color":"#dadada"},"encoding":{"x":{"datum":23395.47,"type":"quantitative","scale":{"domain":[23398,23407]},"axis":null},"x2":{"datum":23407}}},
   {"width":929,"height":50,"layer":[
     {"data":{"name":"bbases"},"mark":{"type":"rect"},"encoding":{"x":{"field":"start","type":"quantitative","scale":{"domain":[23398,23407]},"axis":{"orient":"bottom","offset":-26,"values":[23399,23400,23401,23402,23403,23404,23405,23406],"format":"d","labelFontSize":24,"domain":false,"ticks":false,"tickSize":0,"labelPadding":0,"labelBaseline":"top","labelFlush":false,"title":null,"grid":false}},"x2":{"field":"end"},"y":{"datum":0.92,"type":"quantitative","scale":{"domain":[0,1]},"axis":null},"y2":{"datum":0.58},"color":{"field":"base","type":"nominal","scale":{"domain":["A","C","G","T"],"range":["#a2cf14","#e3573b","#4f9bc9","#953fc4"]},"legend":null}}},
     {"data":{"name":"bbases"},"mark":{"type":"text","color":"white","fontSize":20},"encoding":{"x":{"field":"mid","type":"quantitative","title":null},"y":{"datum":0.75,"type":"quantitative","axis":null},"text":{"field":"base"}}},
     {"data":{"values":[{}]},"mark":{"type":"rule","color":"#8c8c8c","strokeWidth":5},"encoding":{"x":{"datum":23398,"type":"quantitative"},"x2":{"datum":23407},"y":{"datum":0.54,"type":"quantitative","axis":null}}},
     {"data":{"values":[{}]},"mark":{"type":"text","text":"Ruler","align":"left","fontSize":22},"encoding":{"x":{"datum":23395.42,"type":"quantitative"},"y":{"datum":0.68,"type":"quantitative","axis":null}}},
     {"data":{"values":[{}]},"mark":{"type":"text","text":"NC_045512.2","align":"right","fontSize":26},"encoding":{"x":{"datum":23397.9,"type":"quantitative"},"y":{"datum":0.34,"type":"quantitative","axis":null}}},
     {"data":{"name":"redbox"},"mark":{"type":"rule","color":"#e8231c","strokeWidth":5,"strokeDash":[8,6]},"encoding":{"x":{"field":"x","type":"quantitative","title":null},"y":{"datum":1,"type":"quantitative","axis":null},"y2":{"datum":0}}}
   ]},
   {"width":929,"height":4,"data":{"values":[{}]},"mark":{"type":"rect","color":"#dadada"},"encoding":{"x":{"datum":23395.47,"type":"quantitative","scale":{"domain":[23398,23407]},"axis":null},"x2":{"datum":23407}}},
   {"width":929,"height":44,"layer":[
     {"data":{"name":"bbases"},"transform":[{"filter":"datum.H != null"}],"mark":{"type":"rect","color":"#4149a8","stroke":"#4149a8","strokeWidth":4},"encoding":{"x":{"field":"start","type":"quantitative","scale":{"domain":[23398,23407]},"axis":null},"x2":{"field":"end"},"y":{"field":"H","type":"quantitative","scale":{"domain":[0,0.67],"range":[40,1]},"axis":{"values":[0,0.67],"format":".2f","labelFontSize":16,"labelFlush":true,"labelPadding":2,"domainWidth":3,"tickWidth":3,"tickSize":6,"title":null,"grid":false}},"y2":{"datum":0}}},
     {"data":{"values":[{}]},"mark":{"type":"text","text":["Sequence diversity","(Shannon entropy)"],"align":"left","baseline":"middle","fontSize":21,"lineHeight":29,"dy":-14},"encoding":{"x":{"datum":23395.42,"type":"quantitative","axis":null}}},
     {"data":{"name":"redbox"},"mark":{"type":"rule","color":"#e8231c","strokeWidth":5,"strokeDash":[8,6]},"encoding":{"x":{"field":"x","type":"quantitative","axis":null},"y":{"datum":0.687,"type":"quantitative"},"y2":{"datum":-0.0687}}}
   ]},
   {"width":929,"height":4,"data":{"values":[{}]},"mark":{"type":"rect","color":"#dadada"},"encoding":{"x":{"datum":23395.47,"type":"quantitative","scale":{"domain":[23398,23407]},"axis":null},"x2":{"datum":23407}}},
   {"width":929,"height":72,"layer":[
     {"data":{"name":"bbases"},"transform":[{"filter":"datum.n != null"}],"mark":{"type":"point","filled":false,"stroke":"#1e7d36","strokeWidth":3,"size":60,"opacity":1},"encoding":{"x":{"field":"mid","type":"quantitative","scale":{"domain":[23398,23407]},"axis":null},"y":{"field":"n","type":"quantitative","scale":{"domain":[0,10900],"range":[66,4]},"axis":{"values":[0,10900],"labelExpr":"datum.value == 0 ? '0.00' : '10.9k'","labelFontSize":16,"labelFlush":true,"labelPadding":2,"domainWidth":3,"tickWidth":3,"tickSize":6,"title":null,"grid":false}}}},
     {"data":{"values":[{}]},"mark":{"type":"text","text":"Mutation alert","align":"left","baseline":"middle","fontSize":21},"encoding":{"x":{"datum":23395.42,"type":"quantitative","axis":null}}},
     {"data":{"name":"redbox"},"mark":{"type":"rule","color":"#e8231c","strokeWidth":5,"strokeDash":[8,6]},"encoding":{"x":{"field":"x","type":"quantitative","axis":null},"y":{"datum":11603,"type":"quantitative"},"y2":{"datum":-1055}}}
   ]},
   {"width":929,"height":4,"data":{"values":[{}]},"mark":{"type":"rect","color":"#dadada"},"encoding":{"x":{"datum":23395.47,"type":"quantitative","scale":{"domain":[23398,23407]},"axis":null},"x2":{"datum":23407}}},
   {"width":929,"height":28,"layer":[
     {"data":{"name":"strains"},"transform":[{"filter":"datum.id == 1"}],"mark":{"type":"text","align":"left","fontSize":21},"encoding":{"x":{"datum":23395.42,"type":"quantitative","scale":{"domain":[23398,23407]},"axis":null},"text":{"field":"strain"}}},
     {"data":{"name":"redbox"},"mark":{"type":"rule","color":"#e8231c","strokeWidth":5,"strokeDash":[8,6]},"encoding":{"x":{"field":"x","type":"quantitative","axis":null}}}
   ]},
   {"width":929,"height":3,"data":{"values":[{}]},"mark":{"type":"rect","color":"#dadada"},"encoding":{"x":{"datum":23395.47,"type":"quantitative","scale":{"domain":[23398,23407]},"axis":null},"x2":{"datum":23407}}},
   {"width":929,"height":28,"layer":[
     {"data":{"name":"strains"},"transform":[{"filter":"datum.id == 2"}],"mark":{"type":"text","align":"left","fontSize":21},"encoding":{"x":{"datum":23395.42,"type":"quantitative","scale":{"domain":[23398,23407]},"axis":null},"text":{"field":"strain"}}},
     {"data":{"name":"redbox"},"mark":{"type":"rule","color":"#e8231c","strokeWidth":5,"strokeDash":[8,6]},"encoding":{"x":{"field":"x","type":"quantitative","axis":null}}}
   ]},
   {"width":929,"height":3,"data":{"values":[{}]},"mark":{"type":"rect","color":"#dadada"},"encoding":{"x":{"datum":23395.47,"type":"quantitative","scale":{"domain":[23398,23407]},"axis":null},"x2":{"datum":23407}}},
   {"width":929,"height":28,"layer":[
     {"data":{"name":"strains"},"transform":[{"filter":"datum.id == 3"}],"mark":{"type":"text","align":"left","fontSize":21},"encoding":{"x":{"datum":23395.42,"type":"quantitative","scale":{"domain":[23398,23407]},"axis":null},"text":{"field":"strain"}}},
     {"data":{"name":"redbox"},"mark":{"type":"rule","color":"#e8231c","strokeWidth":5,"strokeDash":[8,6]},"encoding":{"x":{"field":"x","type":"quantitative","axis":null}}}
   ]},
   {"width":929,"height":3,"data":{"values":[{}]},"mark":{"type":"rect","color":"#dadada"},"encoding":{"x":{"datum":23395.47,"type":"quantitative","scale":{"domain":[23398,23407]},"axis":null},"x2":{"datum":23407}}},
   {"width":929,"height":28,"layer":[
     {"data":{"name":"strains"},"transform":[{"filter":"datum.id == 4"}],"mark":{"type":"text","align":"left","fontSize":21},"encoding":{"x":{"datum":23395.42,"type":"quantitative","scale":{"domain":[23398,23407]},"axis":null},"text":{"field":"strain"}}},
     {"data":{"name":"redbox"},"mark":{"type":"rule","color":"#e8231c","strokeWidth":5,"strokeDash":[8,6]},"encoding":{"x":{"field":"x","type":"quantitative","axis":null}}}
   ]},
   {"width":929,"height":3,"data":{"values":[{}]},"mark":{"type":"rect","color":"#dadada"},"encoding":{"x":{"datum":23395.47,"type":"quantitative","scale":{"domain":[23398,23407]},"axis":null},"x2":{"datum":23407}}},
   {"width":929,"height":28,"layer":[
     {"data":{"name":"strains"},"transform":[{"filter":"datum.id == 5"}],"mark":{"type":"text","align":"left","fontSize":21},"encoding":{"x":{"datum":23395.42,"type":"quantitative","scale":{"domain":[23398,23407]},"axis":null},"text":{"field":"strain"}}},
     {"data":{"name":"strains"},"transform":[{"filter":"datum.id == 5 && datum.alt != null"}],"mark":{"type":"rect","color":"#4d9fcf","stroke":"white","strokeWidth":4},"encoding":{"x":{"field":"start","type":"quantitative","axis":null},"x2":{"field":"end"}}},
     {"data":{"name":"redbox"},"mark":{"type":"rule","color":"#e8231c","strokeWidth":5,"strokeDash":[8,6]},"encoding":{"x":{"field":"x","type":"quantitative","axis":null}}}
   ]},
   {"width":929,"height":3,"data":{"values":[{}]},"mark":{"type":"rect","color":"#dadada"},"encoding":{"x":{"datum":23395.47,"type":"quantitative","scale":{"domain":[23398,23407]},"axis":null},"x2":{"datum":23407}}},
   {"width":929,"height":28,"layer":[
     {"data":{"name":"strains"},"transform":[{"filter":"datum.id == 6"}],"mark":{"type":"text","align":"left","fontSize":21},"encoding":{"x":{"datum":23395.42,"type":"quantitative","scale":{"domain":[23398,23407]},"axis":null},"text":{"field":"strain"}}},
     {"data":{"name":"strains"},"transform":[{"filter":"datum.id == 6 && datum.alt != null"}],"mark":{"type":"rect","color":"#4d9fcf","stroke":"white","strokeWidth":4},"encoding":{"x":{"field":"start","type":"quantitative","axis":null},"x2":{"field":"end"}}},
     {"data":{"name":"redbox"},"mark":{"type":"rule","color":"#e8231c","strokeWidth":5,"strokeDash":[8,6]},"encoding":{"x":{"field":"x","type":"quantitative","axis":null}}}
   ]},
   {"width":929,"height":3,"data":{"values":[{}]},"mark":{"type":"rect","color":"#dadada"},"encoding":{"x":{"datum":23395.47,"type":"quantitative","scale":{"domain":[23398,23407]},"axis":null},"x2":{"datum":23407}}},
   {"width":929,"height":28,"layer":[
     {"data":{"name":"strains"},"transform":[{"filter":"datum.id == 7"}],"mark":{"type":"text","align":"left","fontSize":21},"encoding":{"x":{"datum":23395.42,"type":"quantitative","scale":{"domain":[23398,23407]},"axis":null},"text":{"field":"strain"}}},
     {"data":{"name":"strains"},"transform":[{"filter":"datum.id == 7 && datum.alt != null"}],"mark":{"type":"rect","color":"#4d9fcf","stroke":"white","strokeWidth":4},"encoding":{"x":{"field":"start","type":"quantitative","axis":null},"x2":{"field":"end"}}},
     {"data":{"name":"redbox"},"mark":{"type":"rule","color":"#e8231c","strokeWidth":5,"strokeDash":[8,6]},"encoding":{"x":{"field":"x","type":"quantitative","axis":null}}}
   ]},
   {"width":929,"height":3,"data":{"values":[{}]},"mark":{"type":"rect","color":"#dadada"},"encoding":{"x":{"datum":23395.47,"type":"quantitative","scale":{"domain":[23398,23407]},"axis":null},"x2":{"datum":23407}}},
   {"width":929,"height":28,"layer":[
     {"data":{"name":"strains"},"transform":[{"filter":"datum.id == 8"}],"mark":{"type":"text","align":"left","fontSize":21},"encoding":{"x":{"datum":23395.42,"type":"quantitative","scale":{"domain":[23398,23407]},"axis":null},"text":{"field":"strain"}}},
     {"data":{"name":"strains"},"transform":[{"filter":"datum.id == 8 && datum.alt != null"}],"mark":{"type":"rect","color":"#4d9fcf","stroke":"white","strokeWidth":4},"encoding":{"x":{"field":"start","type":"quantitative","axis":null},"x2":{"field":"end"}}},
     {"data":{"name":"redbox"},"mark":{"type":"rule","color":"#e8231c","strokeWidth":5,"strokeDash":[8,6]},"encoding":{"x":{"field":"x","type":"quantitative","axis":null}}}
   ]},
   {"width":929,"height":4,"data":{"values":[{}]},"mark":{"type":"rect","color":"#dadada"},"encoding":{"x":{"datum":23395.47,"type":"quantitative","scale":{"domain":[23398,23407]},"axis":null},"x2":{"datum":23407}}},
   {"width":929,"height":97,"layer":[
     {"data":{"name":"frac"},"mark":{"type":"rect","color":"#e02b1e"},"encoding":{"x":{"field":"start","type":"quantitative","scale":{"domain":[23398,23407]},"axis":null},"x2":{"field":"end"},"y":{"field":"f","type":"quantitative","scale":{"domain":[0,1],"range":[92,4]},"axis":{"values":[0,1],"format":".1f","labelFontSize":16,"labelFlush":true,"labelPadding":2,"domainWidth":3,"tickWidth":3,"tickSize":6,"title":null,"grid":false}},"y2":{"datum":0}}},
     {"data":{"name":"frac"},"mark":{"type":"text","fontSize":26},"encoding":{"x":{"field":"mid","type":"quantitative","axis":null},"y":{"datum":0.45,"type":"quantitative"},"text":{"field":"label"}}},
     {"data":{"values":[{}]},"mark":{"type":"text","text":"Week 19 (n = 4335)","align":"left","fontSize":22,"fontWeight":"bold","fontStyle":"italic"},"encoding":{"x":{"datum":23398.12,"type":"quantitative","axis":null},"y":{"datum":0.8,"type":"quantitative"}}},
     {"data":{"values":[{}]},"mark":{"type":"text","text":["Fraction of strains","by week with D614G"],"align":"left","baseline":"middle","fontSize":21,"lineHeight":30,"dy":-15},"encoding":{"x":{"datum":23395.42,"type":"quantitative","axis":null}}},
     {"data":{"name":"redbox"},"mark":{"type":"rule","color":"#e8231c","strokeWidth":5,"strokeDash":[8,6]},"encoding":{"x":{"field":"x","type":"quantitative","axis":null},"y":{"datum":1.045,"type":"quantitative"},"y2":{"datum":-0.057}}}
   ]},
   {"width":929,"height":4,"data":{"values":[{}]},"mark":{"type":"rect","color":"#dadada"},"encoding":{"x":{"datum":23395.47,"type":"quantitative","scale":{"domain":[23398,23407]},"axis":null},"x2":{"datum":23407}}},
   {"width":929,"height":85,"layer":[
     {"data":{"name":"bepi"},"mark":{"type":"rect","color":"#8d44c2"},"encoding":{"x":{"field":"start","type":"quantitative","scale":{"domain":[23398,23407]},"axis":null},"x2":{"field":"end"},"y":{"field":"row","type":"ordinal","scale":{"paddingInner":0.1,"paddingOuter":0.02},"axis":null}}},
     {"data":{"name":"bepi"},"mark":{"type":"rule","color":"white","strokeWidth":5,"strokeDash":[4,7],"opacity":0.6},"encoding":{"x":{"field":"start","type":"quantitative","axis":null},"x2":{"field":"end"},"y":{"field":"row","type":"ordinal","bandPosition":0.5,"axis":null}}},
     {"data":{"name":"bepi"},"mark":{"type":"text","color":"white","fontSize":12},"encoding":{"x":{"field":"c","type":"quantitative","axis":null},"y":{"field":"row","type":"ordinal","axis":null},"text":{"field":"seq"}}},
     {"data":{"values":[{}]},"mark":{"type":"text","text":["Predicted Antigenic","Epitopes"],"align":"left","baseline":"middle","fontSize":21,"lineHeight":30,"dy":-15},"encoding":{"x":{"datum":23395.42,"type":"quantitative","axis":null}}},
     {"data":{"name":"redbox"},"mark":{"type":"rule","color":"#e8231c","strokeWidth":5,"strokeDash":[8,6]},"encoding":{"x":{"field":"x","type":"quantitative","axis":null}}}
   ]},
   {"width":929,"height":4,"data":{"values":[{}]},"mark":{"type":"rect","color":"#dadada"},"encoding":{"x":{"datum":23395.47,"type":"quantitative","scale":{"domain":[23398,23407]},"axis":null},"x2":{"datum":23407}}},
   {"width":929,"height":11,"data":{"name":"redbox"},"mark":{"type":"rule","color":"#e8231c","strokeWidth":5,"strokeDash":[8,6]},"encoding":{"x":{"field":"x","type":"quantitative","scale":{"domain":[23398,23407]},"axis":null}}},
   {"width":929,"height":2,"data":{"values":[{}]},"mark":{"type":"rule","color":"#e8231c","strokeWidth":5,"strokeDash":[8,6]},"encoding":{"x":{"datum":23401.12,"type":"quantitative","scale":{"domain":[23398,23407]},"axis":null},"x2":{"datum":23403.86}}}
  ]},
  {"width":1044,"height":1,"data":{"values":[{}]},"mark":{"type":"rect","color":"white","opacity":0},"encoding":{}},
  {"bounds":"flush","spacing":0,"resolve":{"scale":{"color":"independent"},"legend":{"color":"independent"}},"vconcat":[
   {"width":10,"height":193,"data":{"values":[{}]},"mark":{"type":"rect","color":"white","opacity":0},"encoding":{}},
   {"width":785,"height":324,"data":{"name":"weeks"},"transform":[{"fold":["Yes","No"],"as":["status","frac"]}],
    "title":{"text":"d","anchor":"start","frame":"group","dx":-100,"offset":48,"fontSize":30,"fontWeight":"bold"},
    "mark":{"type":"bar"},
    "encoding":{
     "x":{"field":"w","type":"nominal","sort":null,"scale":{"paddingInner":0.08,"paddingOuter":0.1},"axis":{"title":"Week of sample collection (starting 12/24/2019)","titleFontSize":25,"titlePadding":14,"labelAngle":-90,"labelFontSize":24,"labelPadding":4,"tickSize":7,"tickWidth":4,"domainWidth":4,"labelLimit":400}},
     "y":{"field":"frac","type":"quantitative","stack":"zero","scale":{"domain":[0,1],"nice":false},"axis":{"title":"Percent of isolates per week","titleFontSize":23,"titlePadding":6,"format":".0%","values":[0,0.25,0.5,0.75,1],"labelFontSize":22,"tickSize":7,"tickWidth":4,"domainWidth":4}},
     "color":{"field":"status","type":"nominal","scale":{"domain":["No","Yes"],"range":["#aca9a8","#df2a1b"]},"legend":{"orient":"none","legendX":54,"legendY":-100,"direction":"horizontal","title":"D614G in S protein","titleLimit":500,"titleOrient":"left","titleFontSize":27,"titleFontWeight":"normal","titlePadding":126,"labelFontSize":27,"symbolType":"square","symbolSize":1600,"symbolStrokeWidth":0,"symbolOpacity":1,"fillColor":"#f8f6f9","strokeColor":"black","padding":21,"columnPadding":57,"labelOffset":17}},
     "order":{"field":"status","sort":"descending"}
    }}
  ]}
 ]},
 {"bounds":"flush","spacing":0,"resolve":{"scale":{"color":"independent"},"legend":{"color":"independent"}},"vconcat":[
  {"width":10,"height":120,"data":{"values":[{}]},"mark":{"type":"rect","color":"white","opacity":0},"encoding":{}},
  {"width":2016,"height":371,"data":{"name":"countries"},"transform":[{"fold":["Yes","No"],"as":["status","frac"]}],
   "title":{"text":"c","anchor":"start","frame":"group","dx":-85,"offset":38,"fontSize":30,"fontWeight":"bold"},
   "mark":{"type":"bar"},
   "encoding":{
    "x":{"field":"c","type":"nominal","sort":null,"scale":{"paddingInner":0.07,"paddingOuter":0.05},"axis":{"title":null,"labelAngle":-90,"labelFontSize":21,"labelPadding":4,"tickSize":7,"tickWidth":3,"domainWidth":4,"labelLimit":400}},
    "y":{"field":"frac","type":"quantitative","stack":"zero","scale":{"domain":[0,1],"nice":false},"axis":{"title":"Percent of isolates in country","titleFontSize":22,"titlePadding":2,"labelPadding":2,"format":".0%","values":[0,0.25,0.5,0.75,1],"labelFontSize":22,"tickSize":7,"tickWidth":3,"domainWidth":4}},
    "color":{"field":"status","type":"nominal","scale":{"domain":["No","Yes"],"range":["#aca9a8","#df2a1b"]},"legend":{"orient":"none","legendX":14,"legendY":755,"direction":"horizontal","title":"D614G in S protein","titleLimit":500,"titleOrient":"left","titleFontSize":27,"titleFontWeight":"normal","titlePadding":216,"labelFontSize":27,"symbolType":"square","symbolSize":1700,"symbolStrokeWidth":0,"symbolOpacity":1,"fillColor":"#f8f6f9","strokeColor":"black","padding":22,"columnPadding":57,"labelOffset":17}},
    "order":{"field":"status","sort":"descending"}
   }},
  {"width":10,"height":288,"data":{"values":[{}]},"mark":{"type":"rect","color":"white","opacity":0},"encoding":{}},
  {"width":2016,"height":10,"data":{"name":"continents"},"mark":{"type":"rule","strokeWidth":5,"color":"black"},"encoding":{"x":{"field":"s","type":"quantitative","scale":{"domain":[0,84]},"axis":null},"x2":{"field":"e"}}},
  {"width":2016,"height":42,"data":{"name":"continents"},"layer":[
    {"transform":[{"filter":"datum.cont != 'Oceania'"}],"mark":{"type":"text","fontSize":25,"fontWeight":"bold","baseline":"top","lineBreak":" ","lineHeight":30},"encoding":{"x":{"field":"m","type":"quantitative","scale":{"domain":[0,84]},"axis":null},"text":{"field":"cont"}}},
    {"transform":[{"filter":"datum.cont == 'Oceania'"}],"mark":{"type":"text","fontSize":25,"fontWeight":"bold","angle":270,"align":"right","baseline":"middle"},"encoding":{"x":{"field":"m","type":"quantitative","axis":null},"text":{"field":"cont"}}}
  ]}
 ]}
]
}
